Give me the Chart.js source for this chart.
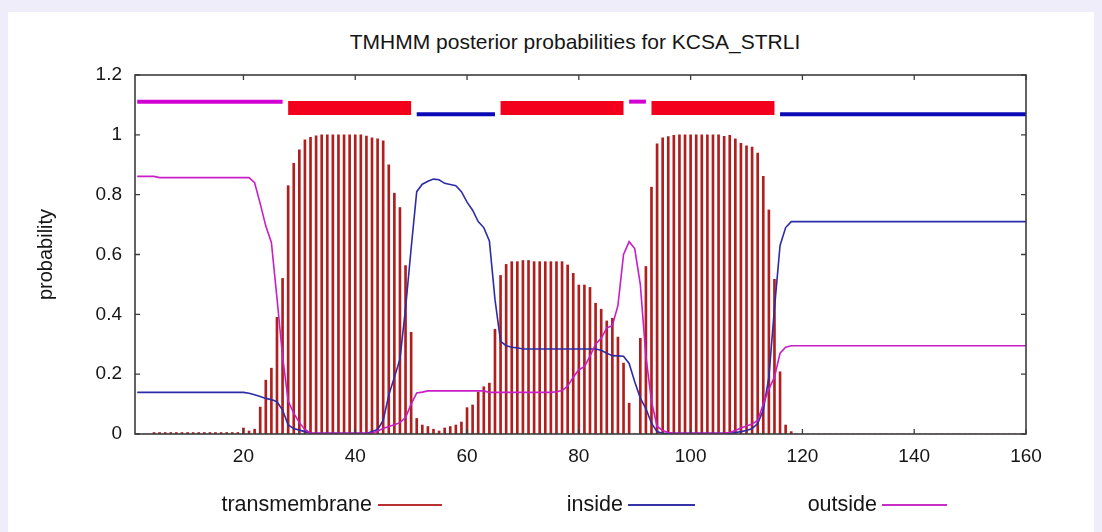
<!DOCTYPE html>
<html>
<head>
<meta charset="utf-8">
<title>TMHMM posterior probabilities for KCSA_STRLI</title>
<script src="https://cdn.jsdelivr.net/npm/chart.js@4.4.1/dist/chart.umd.min.js"></script>
<style>
  html, body { margin:0; padding:0; background:#efedfa; }
  #wrap { position:relative; width:1102px; height:532px; overflow:hidden; }
  #panel { position:absolute; left:8px; top:12px; width:1086px; height:520px; background:#fff; }
  #tmChart { position:absolute; left:0; top:0; }
  .txt { position:absolute; font-family:"Liberation Sans", Arial, sans-serif; color:#151515; white-space:nowrap; }
  #title { left:0; width:1150px; top:28px; text-align:center; font-size:21px; line-height:27px; }
  .lgText { top:491px; font-size:21.5px; line-height:27px; }
  .lgLine { position:absolute; top:504px; height:0; border-top:2px solid; }
</style>
</head>
<body>
<div id="wrap">
  <div id="panel"></div>
  <div id="title" class="txt">TMHMM posterior probabilities for KCSA_STRLI</div>
  <canvas id="tmChart" width="1102" height="532"></canvas>
  <span class="txt lgText" style="right:730px">transmembrane</span>
  <div class="lgLine" style="left:378px;width:64px;border-color:#b83030"></div>
  <span class="txt lgText" style="right:479px">inside</span>
  <div class="lgLine" style="left:628px;width:67px;border-color:#3434a6"></div>
  <span class="txt lgText" style="right:225px">outside</span>
  <div class="lgLine" style="left:882px;width:65px;border-color:#c62ec6"></div>
</div>
<script>
// residue numbers 1..160 (x axis)
var residues = [];
for (var r = 1; r <= 160; r++) residues.push(r);

// posterior probabilities, one value per residue
var tmProb = [
  0, 0, 0, 0.005, 0.005, 0.005, 0.005, 0.005, 0.005, 0.005,
  0.005, 0.005, 0.005, 0.005, 0.005, 0.005, 0.005, 0.005, 0.005, 0.02,
  0.01, 0.016, 0.09, 0.18, 0.22, 0.39, 0.52, 0.83, 0.905, 0.95,
  0.983, 0.992, 0.997, 1, 1, 1, 1, 1, 1, 1,
  1, 0.996, 0.99, 0.987, 0.98, 0.90, 0.805, 0.757, 0.563, 0.34,
  0.052, 0.03, 0.025, 0.016, 0.01, 0.02, 0.025, 0.03, 0.04, 0.088,
  0.097, 0.14, 0.158, 0.17, 0.35, 0.53, 0.567, 0.576, 0.576, 0.58,
  0.58, 0.576, 0.576, 0.576, 0.576, 0.576, 0.576, 0.565, 0.537, 0.498,
  0.498, 0.49, 0.437, 0.417, 0.378, 0.387, 0.324, 0.237, 0.103, 0,
  0.32, 0.56, 0.825, 0.97, 0.99, 0.994, 0.998, 1, 1, 1,
  1, 1, 1, 1, 1, 0.995, 0.998, 0.987, 0.972, 0.963,
  0.959, 0.939, 0.861, 0.749, 0.517, 0.208, 0.03, 0.008, 0, 0,
  0, 0, 0, 0, 0, 0, 0, 0, 0, 0,
  0, 0, 0, 0, 0, 0, 0, 0, 0, 0,
  0, 0, 0, 0, 0, 0, 0, 0, 0, 0,
  0, 0, 0, 0, 0, 0, 0, 0, 0, 0
];
var insideProb = [
  0.139, 0.139, 0.139, 0.139, 0.139, 0.139, 0.139, 0.139, 0.139, 0.139,
  0.139, 0.139, 0.139, 0.139, 0.139, 0.139, 0.139, 0.139, 0.139, 0.139,
  0.136, 0.131, 0.125, 0.119, 0.115, 0.108, 0.08, 0.03, 0.018, 0.013,
  0.008, 0.003, 0.002, 0.002, 0.002, 0.002, 0.002, 0.002, 0.002, 0.002,
  0.002, 0.002, 0.008, 0.015, 0.045, 0.13, 0.19, 0.25, 0.42, 0.62,
  0.81, 0.835, 0.845, 0.852, 0.85, 0.838, 0.834, 0.83, 0.81, 0.775,
  0.748, 0.71, 0.69, 0.645, 0.45, 0.31, 0.295, 0.29, 0.288, 0.284,
  0.284, 0.284, 0.284, 0.284, 0.284, 0.284, 0.284, 0.284, 0.284, 0.284,
  0.284, 0.284, 0.284, 0.28, 0.27, 0.262, 0.261, 0.26, 0.236, 0.175,
  0.12, 0.085, 0.036, 0.008, 0.002, 0.002, 0.002, 0.002, 0.002, 0.002,
  0.002, 0.002, 0.002, 0.002, 0.002, 0.002, 0.002, 0.005, 0.008, 0.012,
  0.018, 0.035, 0.08, 0.19, 0.42, 0.63, 0.69, 0.71, 0.71, 0.71,
  0.71, 0.71, 0.71, 0.71, 0.71, 0.71, 0.71, 0.71, 0.71, 0.71,
  0.71, 0.71, 0.71, 0.71, 0.71, 0.71, 0.71, 0.71, 0.71, 0.71,
  0.71, 0.71, 0.71, 0.71, 0.71, 0.71, 0.71, 0.71, 0.71, 0.71,
  0.71, 0.71, 0.71, 0.71, 0.71, 0.71, 0.71, 0.71, 0.71, 0.71
];
var outsideProb = [
  0.861, 0.861, 0.861, 0.861, 0.857, 0.857, 0.857, 0.857, 0.857, 0.857,
  0.857, 0.857, 0.857, 0.857, 0.857, 0.857, 0.857, 0.857, 0.857, 0.857,
  0.857, 0.84, 0.77, 0.695, 0.64, 0.454, 0.26, 0.11, 0.07, 0.038,
  0.015, 0.003, 0.002, 0.002, 0.002, 0.002, 0.002, 0.002, 0.002, 0.002,
  0.002, 0.002, 0.002, 0.01, 0.018, 0.025, 0.031, 0.038, 0.055, 0.1,
  0.137, 0.14, 0.144, 0.144, 0.144, 0.144, 0.144, 0.144, 0.144, 0.144,
  0.144, 0.144, 0.144, 0.139, 0.139, 0.139, 0.139, 0.139, 0.139, 0.139,
  0.139, 0.139, 0.139, 0.139, 0.139, 0.141, 0.145, 0.16, 0.19, 0.215,
  0.225, 0.26, 0.3, 0.32, 0.355, 0.362, 0.43, 0.6, 0.643, 0.62,
  0.5, 0.26, 0.11, 0.025, 0.012, 0.005, 0.002, 0.002, 0.002, 0.002,
  0.002, 0.002, 0.002, 0.002, 0.002, 0.002, 0.005, 0.012, 0.02, 0.027,
  0.033, 0.045, 0.1, 0.15, 0.19, 0.27, 0.29, 0.295, 0.295, 0.295,
  0.295, 0.295, 0.295, 0.295, 0.295, 0.295, 0.295, 0.295, 0.295, 0.295,
  0.295, 0.295, 0.295, 0.295, 0.295, 0.295, 0.295, 0.295, 0.295, 0.295,
  0.295, 0.295, 0.295, 0.295, 0.295, 0.295, 0.295, 0.295, 0.295, 0.295,
  0.295, 0.295, 0.295, 0.295, 0.295, 0.295, 0.295, 0.295, 0.295, 0.295
];

// predicted topology segments (residue ranges)
var topoStart = [1, 28, 51, 66, 89, 93, 116];
var topoEnd   = [27, 50, 65, 88, 92, 115, 160];
var topoType  = ['outside', 'TMhelix', 'inside', 'TMhelix', 'outside', 'TMhelix', 'inside'];

var xTicks = [20, 40, 60, 80, 100, 120, 140, 160];
var yTicks = [0, 0.2, 0.4, 0.6, 0.8, 1, 1.2];

var FONT = '"Liberation Sans", Arial, sans-serif';

function pts(vals) {
    return vals.map(function (v, i) { return { x: residues[i], y: v }; });
}

// how each topology type is drawn above the curves
var topoStyle = {
    outside: { level: 1.111, color: '#d200d2', width: 4 },
    inside:  { level: 1.069, color: '#0a0ab6', width: 4 },
    TMhelix: { level: 1.090, color: '#f2001c', width: 14 }
};

var topoSets = topoStart.map(function (s, k) {
    var st = topoStyle[topoType[k]];
    return {
        type: 'line',
        data: [{ x: s, y: st.level }, { x: topoEnd[k], y: st.level }],
        borderColor: st.color, borderWidth: st.width, borderCapStyle: 'butt',
        pointRadius: 0, order: 0
    };
});

// gnuplot-like frame with inward tick marks on all four sides
var frame = {
    id: 'frame',
    afterDatasetsDraw: function (chart) {
        var a = chart.chartArea, c = chart.ctx, xs = chart.scales.x, ys = chart.scales.y;
        c.save();
        c.strokeStyle = '#3c3c3c';
        c.lineWidth = 1.6;
        c.strokeRect(a.left, a.top, a.right - a.left, a.bottom - a.top);
        c.lineWidth = 1.3;
        c.beginPath();
        xTicks.forEach(function (v) {
            var p = xs.getPixelForValue(v);
            c.moveTo(p, a.bottom); c.lineTo(p, a.bottom - 5);
            c.moveTo(p, a.top);    c.lineTo(p, a.top + 5);
        });
        yTicks.forEach(function (v) {
            var p = ys.getPixelForValue(v);
            c.moveTo(a.left, p);  c.lineTo(a.left + 5, p);
            c.moveTo(a.right, p); c.lineTo(a.right - 5, p);
        });
        c.stroke();
        c.restore();
    }
};

new Chart(document.getElementById('tmChart'), {
    type: 'bar',
    data: {
        datasets: topoSets.concat([
            { type: 'line', label: 'outside', data: pts(outsideProb), borderColor: '#c81ec8',
              borderWidth: 1.6, pointRadius: 0, tension: 0, order: 1 },
            { type: 'line', label: 'inside', data: pts(insideProb), borderColor: '#2c2ca8',
              borderWidth: 1.6, pointRadius: 0, tension: 0, order: 2 },
            { type: 'bar', label: 'transmembrane', data: pts(tmProb), backgroundColor: '#b01e1e',
              barThickness: 2, grouped: false, order: 3 }
        ])
    },
    options: {
        responsive: false, animation: false, events: [],
        layout: { padding: { top: 75, right: 76, bottom: 0, left: 0 } },
        plugins: { legend: { display: false }, tooltip: { enabled: false }, title: { display: false } },
        scales: {
            x: {
                type: 'linear', min: 0.6, max: 160, offset: false,
                afterBuildTicks: function (s) { s.ticks = xTicks.map(function (v) { return { value: v }; }); },
                afterFit: function (s) { s.height = 98; },
                grid: { display: false, drawTicks: false }, border: { display: false },
                ticks: { font: { family: FONT, size: 19 }, color: '#151515', padding: 11,
                         maxRotation: 0, autoSkip: false }
            },
            y: {
                min: 0, max: 1.2,
                afterBuildTicks: function (s) { s.ticks = yTicks.map(function (v) { return { value: v }; }); },
                afterFit: function (s) { s.width = 135; },
                grid: { display: false, drawTicks: false }, border: { display: false },
                ticks: { font: { family: FONT, size: 19 }, color: '#151515', padding: 13,
                         callback: function (v) { return String(Math.round(v * 10) / 10); } },
                title: { display: true, text: 'probability', color: '#151515',
                         font: { family: FONT, size: 20 }, padding: { top: 34, bottom: 0 } }
            }
        }
    },
    plugins: [frame]
});
</script>
</body>
</html>
